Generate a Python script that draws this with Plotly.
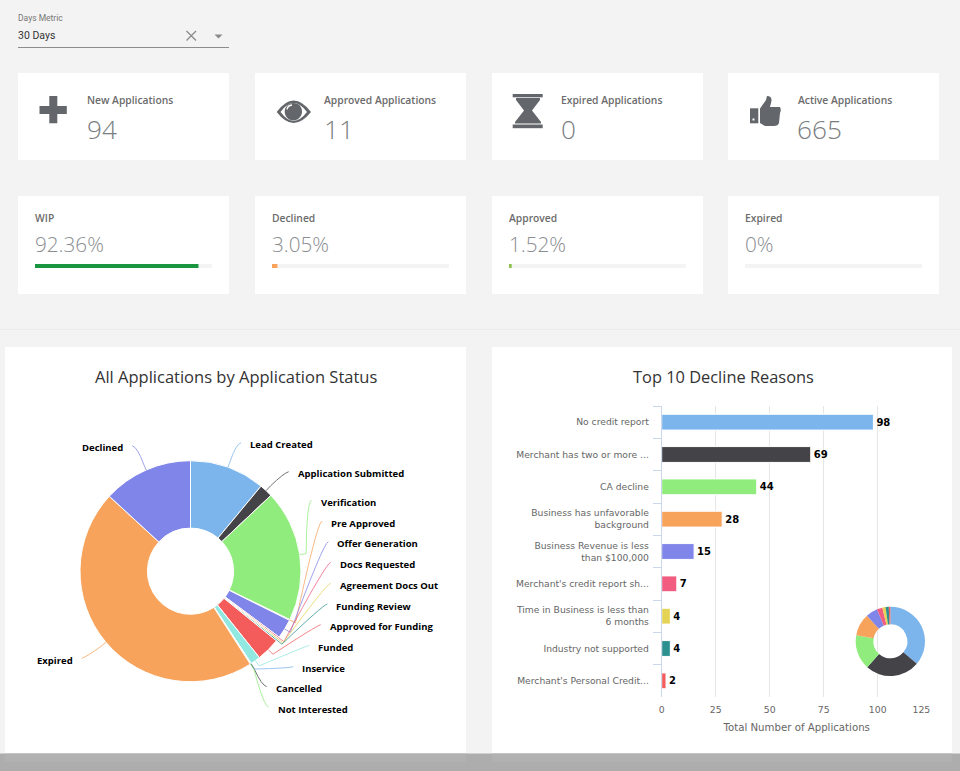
import math
import plotly.graph_objects as go

W, H = 960, 771

# ---------- data ----------
status_labels = ["Lead Created", "Application Submitted", "Verification", "Pre Approved",
                 "Offer Generation", "Docs Requested", "Agreement Docs Out", "Funding Review",
                 "Approved for Funding", "Funded", "Inservice", "Cancelled", "Not Interested",
                 "Expired", "Declined"]
status_values = [198, 35, 346, 2, 51, 4, 4, 4, 62, 26, 1, 1, 1, 826, 236]

reason_labels = ["No credit report", "Merchant has two or more ...", "CA decline",
                 "Business has unfavorable<br>background",
                 "Business Revenue is less<br>than $100,000",
                 "Merchant's credit report sh...",
                 "Time in Business is less than<br>6 months",
                 "Industry not supported", "Merchant's Personal Credit..."]
reason_values = [98, 69, 44, 28, 15, 7, 4, 4, 2]
x_ticks = [0, 25, 50, 75, 100, 125]
# the last label sits left of its gridline in the reference, so it carries trailing padding
x_tick_text = ["0", "25", "50", "75", "100", "125" + "\u00a0" * 7]

count_titles = ["New Applications", "Approved Applications", "Expired Applications", "Active Applications"]
count_values = ["94", "11", "0", "665"]
pct_titles = ["WIP", "Declined", "Approved", "Expired"]
pct_values = [92.36, 3.05, 1.52, 0]
pct_labels = ["92.36%", "3.05%", "1.52%", "0%"]

palette = ["#7cb5ec", "#434348", "#90ed7d", "#f7a35c", "#8085e9", "#f15c80", "#e4d354",
           "#2b908f", "#f45b5b", "#91e8e1"]
pie_colors = [palette[i % 10] for i in range(len(status_values))]
pct_colors = ["#1a9641", "#f7a35c", "#8bc34a", "#cccccc"]
ICON = "#63666a"

# ---------- helpers ----------
def px(x): return x / W
def py(y): return 1 - y / H

shapes, annos = [], []

def rect(x0, y0, x1, y1, fill, layer="below"):
    shapes.append(dict(type="rect", xref="paper", yref="paper", x0=px(x0), x1=px(x1),
                       y0=py(y1), y1=py(y0), fillcolor=fill, line=dict(width=0), layer=layer))

def path(cmds, fill=None, line=None, width=1, layer="above", opacity=1):
    out = []
    for c in cmds:
        if isinstance(c, str):
            out.append(c)
        else:
            out.append(f"{px(c[0]):.6f},{py(c[1]):.6f}")
    s = dict(type="path", xref="paper", yref="paper", path=" ".join(out), layer=layer, opacity=opacity,
             line=dict(width=width if line else 0, color=line or "rgba(0,0,0,0)"))
    if fill:
        s["fillcolor"] = fill
    shapes.append(s)

def text(x, y, t, size, color, family="Open Sans", anchor="left", weight=None):
    f = dict(size=size, color=color, family=family)
    if weight:
        f["weight"] = weight
    annos.append(dict(xref="paper", yref="paper", x=px(x), y=py(y), text=t, showarrow=False,
                      xanchor=anchor, yanchor="middle", font=f, borderpad=0, borderwidth=0))

# ---------- page furniture ----------
rect(0, 329, 960, 330, "#ebebeb")
card_x = [18, 255, 492, 728]
CW = 211
for i in range(4):
    x = card_x[i]
    rect(x, 73, x + CW, 160, "#ffffff")
    rect(x, 196, x + CW, 294, "#ffffff")
    tx = [87, 324, 561, 797.5][i]
    text(tx, 100.5, count_titles[i], 10.3, "#6b6b6b", weight=600)
    text(tx - 0.5, 129.5, count_values[i], 26.2, "#7a7d80", weight=300)
    text(x + 17, 218, pct_titles[i], 10.3, "#6b6b6b", weight=600)
    text(x + 17, 243.8, pct_labels[i], 20.7, "#8a8d90", weight=300)
    rect(x + 17, 264, x + 194, 268, "#f4f4f4")
    if pct_values[i] > 0:
        rect(x + 17, 264, x + 17 + 177 * pct_values[i] / 100, 268, pct_colors[i])

rect(5, 347, 466, 771, "#ffffff")
rect(492, 347, 952, 771, "#ffffff")
text(236, 376, "All Applications by Application Status", 16.5, "#333333", anchor="center")
text(723, 376, "Top 10 Decline Reasons", 16.4, "#333333", anchor="center")

# selector
text(18, 18, "Days Metric", 8.5, "#777777", family="Roboto")
text(18, 35.5, "30 Days", 10.5, "#333333", family="Roboto")
rect(18, 47, 229, 48, "#8c8c8c")
path(["M", (186.5, 31), "L", (196, 40.5), "M", (196, 31), "L", (186.5, 40.5)], line="#8a8a8a", width=1.3)
path(["M", (214.5, 34.5), "L", (222.5, 34.5), "L", (218.5, 38.5), "Z"], fill="#8a8a8a")

# icons
path(["M", (49.3, 96), "L", (57.3, 96), "L", (57.3, 106), "L", (66.8, 106), "L", (66.8, 114), "L", (57.3, 114),
      "L", (57.3, 123.3), "L", (49.3, 123.3), "L", (49.3, 114), "L", (39.5, 114), "L", (39.5, 106), "L", (49.3, 106), "Z"],
     fill=ICON)
path(["M", (276.7, 112), "Q", (293.5, 89), (311, 112), "Q", (293.5, 134), (276.7, 112), "Z",
      "M", (280.5, 112), "Q", (293.5, 129.5), (307, 112), "Q", (293.5, 94), (280.5, 112), "Z"], fill=ICON)
path(["M", (293.3, 103), "C", (299, 103), (302, 107), (302, 111.7), "C", (302, 116.5), (298, 120.3), (293.3, 120.3),
      "C", (288.5, 120.3), (284.7, 116.5), (284.7, 111.7), "C", (284.7, 107), (288.5, 103), (293.3, 103), "Z"], fill=ICON)
path(["M", (287, 109.5), "Q", (287.5, 105.5), (292, 105)], line="#ffffff", width=1.3)
rect(512.7, 94, 542.7, 97.3, ICON, layer="above")
rect(512.7, 124.5, 542.7, 128.2, ICON, layer="above")
path(["M", (516, 98), "L", (540, 98), "L", (540, 100), "L", (532, 110.5), "L", (541, 122), "L", (541, 123.5),
      "L", (515, 123.5), "L", (515, 122), "L", (524, 110.5), "L", (516, 100), "Z"], fill=ICON)
path(["M", (750, 108.3), "L", (758.3, 108.3), "L", (758.3, 123.3), "L", (750, 123.3), "Z"], fill=ICON)
rect(752.5, 118.5, 754.5, 120.5, "#ffffff", layer="above")
path(["M", (760, 108.5), "L", (766, 100), "L", (767, 96), "Q", (772, 96), (771.5, 101), "L", (770, 107),
      "L", (780, 107), "Q", (781.5, 110), (780, 113), "L", (779, 123), "Q", (778, 126), (774, 126),
      "L", (765, 126), "L", (760, 123), "Z"], fill=ICON)

# bottom band
rect(0, 753.5, 960, 771, "#adadad", layer="above")
rect(5, 753.5, 466, 762, "#b1b1b1", layer="above")
rect(492, 753.5, 952, 762, "#b1b1b1", layer="above")

# ---------- main pie ----------
PX0, PX1, PY0, PY1 = 80, 301, 460.7, 681.7
CX, CY, R = (PX0 + PX1) / 2, (PY0 + PY1) / 2, (PX1 - PX0) / 2
pie = go.Pie(labels=status_labels, values=status_values, sort=False, direction="clockwise",
             rotation=0, hole=0.39, textinfo="none", showlegend=False,
             marker=dict(colors=pie_colors, line=dict(color="#ffffff", width=1)),
             domain=dict(x=[px(PX0), px(PX1)], y=[py(PY1), py(PY0)]))

# connector ends (layout), in the order of status_labels
conn_ends = [(241, 442.7), (288.7, 471.7), (311.7, 500), (322, 521), (328.3, 541.7), (330.7, 562.3),
             (330.7, 583.3), (327.3, 604), (320.7, 624.7), (309.3, 645.3), (293.3, 666.7),
             (266.7, 686.7), (268.7, 707.3), (81.7, 658.3), (132.3, 445.7)]
total = sum(status_values)
cum = 0
for i, v in enumerate(status_values):
    a = math.radians((cum + v / 2) / total * 360)
    cum += v
    sx, sy = math.sin(a), -math.cos(a)
    P = (CX + R * sx, CY + R * sy)
    E = (CX + (R + 6.5) * sx, CY + (R + 6.5) * sy)
    T = conn_ends[i]
    d = 1 if T[0] > CX else -1
    C = (T[0] - d * 5, T[1] + (1 if E[1] > T[1] else -1) * 1.5)
    path(["M", P, "L", E, "Q", C, T], line=pie_colors[i], width=1, opacity=0.75)
    lx = T[0] + d * 9
    text(lx, T[1] + 2, status_labels[i], 9.5, "#000000", anchor="left" if d > 0 else "right", weight=700)

# ---------- bars ----------
AX0, AX1, AY0, AY1 = 661.7, 931.7, 406, 697
bar = go.Bar(y=reason_labels, x=reason_values, orientation="h",
             marker=dict(color=palette[:len(reason_values)], line=dict(color="#ffffff", width=1)),
             text=[str(v) for v in reason_values], textposition="outside", cliponaxis=False,
             textfont=dict(family="DejaVu Sans", size=10, color="#000000", weight=700),
             showlegend=False, hoverinfo="skip", width=0.49)

# ---------- small donut ----------
DX0, DX1, DY0, DY1 = 855.7, 925, 606.7, 676
donut = go.Pie(labels=reason_labels, values=reason_values, sort=False, direction="clockwise",
               rotation=0, hole=0.49, textinfo="none", showlegend=False,
               marker=dict(colors=palette[:len(reason_values)], line=dict(width=0)),
               domain=dict(x=[px(DX0), px(DX1)], y=[py(DY1), py(DY0)]))

fig = go.Figure([bar, pie, donut])
fig.update_layout(
    width=W, height=H, margin=dict(l=0, r=0, t=0, b=0), autosize=False,
    paper_bgcolor="#f3f3f3", plot_bgcolor="rgba(0,0,0,0)",
    shapes=shapes, annotations=annos, showlegend=False,
    font=dict(family="Open Sans"),
    xaxis=dict(domain=[px(AX0), px(AX1)], range=[0, 125], tickvals=x_ticks, ticktext=x_tick_text,
               showgrid=True, automargin=False, ticklabelstandoff=6,
               gridcolor="#e6e6e6", gridwidth=1, zeroline=False, showline=False, ticks="",
               tickfont=dict(family="DejaVu Sans", size=9.3, color="#666666"),
               title=dict(text="Total Number of Applications", standoff=9,
                          font=dict(family="DejaVu Sans", size=10.2, color="#666666"))),
    yaxis=dict(domain=[py(AY1), py(AY0)], autorange="reversed", type="category",
               automargin=False, ticklabelstandoff=10,
               categoryorder="array", categoryarray=reason_labels,
               showgrid=False, zeroline=False, showline=True, linecolor="#ccd6eb", linewidth=1,
               ticks="outside", tickson="boundaries", ticklen=8, tickcolor="#ccd6eb", tickwidth=1,
               tickfont=dict(family="DejaVu Sans", size=9.2, color="#666666")),
)
fig.write_html("out.html", config=dict(displayModeBar=False),
               post_script="document.body.style.margin='0';document.body.style.overflow='hidden';")
